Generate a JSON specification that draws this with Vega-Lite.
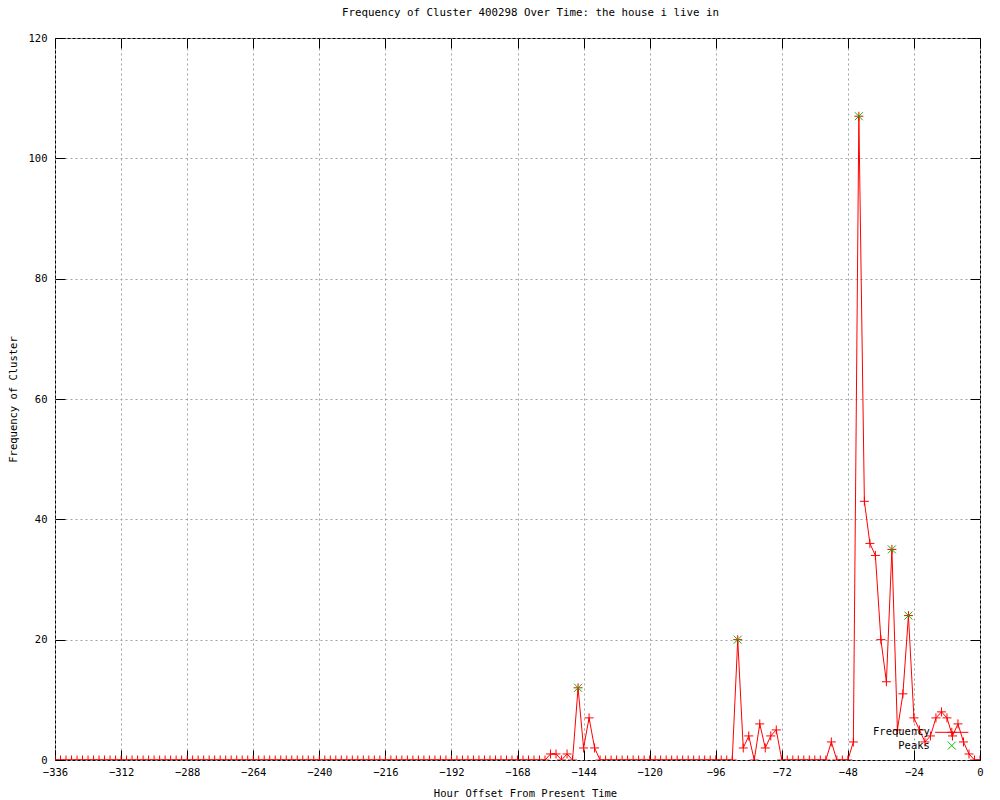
{
  "$schema": "https://vega.github.io/schema/vega-lite/v6.json",
  "width": 925,
  "height": 722,
  "autosize": {"type": "none"},
  "padding": {"left": 55, "top": 38, "right": 20, "bottom": 40},
  "background": "white",
  "title": {"text": "Frequency of Cluster 400298 Over Time: the house i live in", "font": "DejaVu Sans Mono", "fontSize": 10.8, "fontWeight": "normal", "color": "black", "offset": 15, "dx": 13},
  "config": {
    "view": {"stroke": "black", "strokeWidth": 1},
    "axis": {"labelFont": "DejaVu Sans Mono", "labelFontSize": 10.5, "labelColor": "black", "labelFlush": false, "labelOverlap": false, "titleFont": "DejaVu Sans Mono", "titleFontSize": 10.5, "titleFontWeight": "normal", "titleColor": "black", "domain": false, "tickColor": "black", "tickWidth": 1, "tickSize": -10, "gridColor": "#a0a0a0", "gridDash": [2, 3], "gridWidth": 1, "gridOpacity": 1}
  },
  "datasets": {
    "freq": [
      {"h":-336,"f":0},{"h":-334,"f":0},{"h":-332,"f":0},{"h":-330,"f":0},{"h":-328,"f":0},{"h":-326,"f":0},{"h":-324,"f":0},{"h":-322,"f":0},{"h":-320,"f":0},{"h":-318,"f":0},
      {"h":-316,"f":0},{"h":-314,"f":0},{"h":-312,"f":0},{"h":-310,"f":0},{"h":-308,"f":0},{"h":-306,"f":0},{"h":-304,"f":0},{"h":-302,"f":0},{"h":-300,"f":0},{"h":-298,"f":0},
      {"h":-296,"f":0},{"h":-294,"f":0},{"h":-292,"f":0},{"h":-290,"f":0},{"h":-288,"f":0},{"h":-286,"f":0},{"h":-284,"f":0},{"h":-282,"f":0},{"h":-280,"f":0},{"h":-278,"f":0},
      {"h":-276,"f":0},{"h":-274,"f":0},{"h":-272,"f":0},{"h":-270,"f":0},{"h":-268,"f":0},{"h":-266,"f":0},{"h":-264,"f":0},{"h":-262,"f":0},{"h":-260,"f":0},{"h":-258,"f":0},
      {"h":-256,"f":0},{"h":-254,"f":0},{"h":-252,"f":0},{"h":-250,"f":0},{"h":-248,"f":0},{"h":-246,"f":0},{"h":-244,"f":0},{"h":-242,"f":0},{"h":-240,"f":0},{"h":-238,"f":0},
      {"h":-236,"f":0},{"h":-234,"f":0},{"h":-232,"f":0},{"h":-230,"f":0},{"h":-228,"f":0},{"h":-226,"f":0},{"h":-224,"f":0},{"h":-222,"f":0},{"h":-220,"f":0},{"h":-218,"f":0},
      {"h":-216,"f":0},{"h":-214,"f":0},{"h":-212,"f":0},{"h":-210,"f":0},{"h":-208,"f":0},{"h":-206,"f":0},{"h":-204,"f":0},{"h":-202,"f":0},{"h":-200,"f":0},{"h":-198,"f":0},
      {"h":-196,"f":0},{"h":-194,"f":0},{"h":-192,"f":0},{"h":-190,"f":0},{"h":-188,"f":0},{"h":-186,"f":0},{"h":-184,"f":0},{"h":-182,"f":0},{"h":-180,"f":0},{"h":-178,"f":0},
      {"h":-176,"f":0},{"h":-174,"f":0},{"h":-172,"f":0},{"h":-170,"f":0},{"h":-168,"f":0},{"h":-166,"f":0},{"h":-164,"f":0},{"h":-162,"f":0},{"h":-160,"f":0},{"h":-158,"f":0},
      {"h":-156,"f":1},{"h":-154,"f":1},{"h":-152,"f":0},{"h":-150,"f":1},{"h":-148,"f":0},{"h":-146,"f":12},{"h":-144,"f":2},{"h":-142,"f":7},{"h":-140,"f":2},{"h":-138,"f":0},
      {"h":-136,"f":0},{"h":-134,"f":0},{"h":-132,"f":0},{"h":-130,"f":0},{"h":-128,"f":0},{"h":-126,"f":0},{"h":-124,"f":0},{"h":-122,"f":0},{"h":-120,"f":0},{"h":-118,"f":0},
      {"h":-116,"f":0},{"h":-114,"f":0},{"h":-112,"f":0},{"h":-110,"f":0},{"h":-108,"f":0},{"h":-106,"f":0},{"h":-104,"f":0},{"h":-102,"f":0},{"h":-100,"f":0},{"h":-98,"f":0},
      {"h":-96,"f":0},{"h":-94,"f":0},{"h":-92,"f":0},{"h":-90,"f":0},{"h":-88,"f":20},{"h":-86,"f":2},{"h":-84,"f":4},{"h":-82,"f":0},{"h":-80,"f":6},{"h":-78,"f":2},
      {"h":-76,"f":4},{"h":-74,"f":5},{"h":-72,"f":0},{"h":-70,"f":0},{"h":-68,"f":0},{"h":-66,"f":0},{"h":-64,"f":0},{"h":-62,"f":0},{"h":-60,"f":0},{"h":-58,"f":0},
      {"h":-56,"f":0},{"h":-54,"f":3},{"h":-52,"f":0},{"h":-50,"f":0},{"h":-48,"f":0},{"h":-46,"f":3},{"h":-44,"f":107},{"h":-42,"f":43},{"h":-40,"f":36},{"h":-38,"f":34},
      {"h":-36,"f":20},{"h":-34,"f":13},{"h":-32,"f":35},{"h":-30,"f":5},{"h":-28,"f":11},{"h":-26,"f":24},{"h":-24,"f":7},{"h":-22,"f":5},{"h":-20,"f":3},{"h":-18,"f":4},
      {"h":-16,"f":7},{"h":-14,"f":8},{"h":-12,"f":7},{"h":-10,"f":4},{"h":-8,"f":6},{"h":-6,"f":3},{"h":-4,"f":1},{"h":-2,"f":0},{"h":0,"f":0}
    ],
    "peaks": [
      {"h":-146,"f":12},{"h":-88,"f":20},{"h":-44,"f":107},{"h":-32,"f":35},{"h":-26,"f":24}
    ]
  },
  "resolve": {"axis": {"x": "independent", "y": "independent"}},
  "layer": [
    {
      "data": {"name": "freq"},
      "mark": {"type": "line", "color": "#ff0000", "strokeWidth": 1, "clip": true},
      "encoding": {
        "x": {"field": "h", "type": "quantitative", "scale": {"domain": [-336, 0], "nice": false, "zero": false},
          "axis": {"orient": "bottom", "values": [-336,-312,-288,-264,-240,-216,-192,-168,-144,-120,-96,-72,-48,-24,0], "grid": true, "title": "Hour Offset From Present Time", "labelPadding": 17, "titleX": 470, "titleY": 33, "titleBaseline": "middle", "titleAnchor": null}},
        "y": {"field": "f", "type": "quantitative", "scale": {"domain": [0, 120], "nice": false},
          "axis": {"orient": "left", "values": [0,20,40,60,80,100,120], "grid": true, "title": "Frequency of Cluster", "labelPadding": 18, "titleX": -42, "titleY": 361, "titleBaseline": "middle", "titleAlign": "center", "titleAnchor": null}}
      }
    },
    {
      "data": {"name": "freq"},
      "mark": {"type": "point", "shape": "M-1,0L1,0M0,-1L0,1", "filled": false, "stroke": "#ff0000", "strokeWidth": 1, "size": 81, "opacity": 1, "clip": true},
      "encoding": {
        "x": {"field": "h", "type": "quantitative", "axis": {"orient": "top", "values": [-336,-312,-288,-264,-240,-216,-192,-168,-144,-120,-96,-72,-48,-24,0], "grid": false, "labels": false, "title": null}},
        "y": {"field": "f", "type": "quantitative", "axis": {"orient": "right", "values": [0,20,40,60,80,100,120], "grid": false, "labels": false, "title": null}}
      }
    },
    {
      "data": {"name": "peaks"},
      "mark": {"type": "point", "shape": "M-1,-1L1,1M-1,1L1,-1", "filled": false, "stroke": "#00c000", "strokeWidth": 1, "size": 64, "opacity": 1},
      "encoding": {
        "x": {"field": "h", "type": "quantitative", "axis": null},
        "y": {"field": "f", "type": "quantitative", "axis": null}
      }
    },
    {
      "data": {"values": [{"label": "Frequency"}]},
      "mark": {"type": "text", "align": "right", "baseline": "middle", "font": "DejaVu Sans Mono", "fontSize": 10.5, "color": "black"},
      "encoding": {
        "text": {"field": "label"},
        "x": {"datum": -18.2, "type": "quantitative", "axis": null},
        "y": {"datum": 4.6, "type": "quantitative", "axis": null}
      }
    },
    {
      "data": {"values": [{"label": "Peaks"}]},
      "mark": {"type": "text", "align": "right", "baseline": "middle", "font": "DejaVu Sans Mono", "fontSize": 10.5, "color": "black"},
      "encoding": {
        "text": {"field": "label"},
        "x": {"datum": -18.2, "type": "quantitative", "axis": null},
        "y": {"datum": 2.4, "type": "quantitative", "axis": null}
      }
    },
    {
      "data": {"values": [{"label": "Frequency"}]},
      "mark": {"type": "rule", "color": "#ff0000", "strokeWidth": 1},
      "encoding": {
        "x": {"datum": -16.3, "type": "quantitative", "axis": null},
        "x2": {"datum": -4.2},
        "y": {"datum": 4.6, "type": "quantitative", "axis": null}
      }
    },
    {
      "data": {"values": [{"label": "Frequency"}]},
      "mark": {"type": "point", "shape": "M-1,0L1,0M0,-1L0,1", "filled": false, "stroke": "#ff0000", "strokeWidth": 1, "size": 81, "opacity": 1},
      "encoding": {
        "x": {"datum": -10.25, "type": "quantitative", "axis": null},
        "y": {"datum": 4.6, "type": "quantitative", "axis": null}
      }
    },
    {
      "data": {"values": [{"label": "Peaks"}]},
      "mark": {"type": "point", "shape": "M-1,-1L1,1M-1,1L1,-1", "filled": false, "stroke": "#00c000", "strokeWidth": 1, "size": 64, "opacity": 1},
      "encoding": {
        "x": {"datum": -10.25, "type": "quantitative", "axis": null},
        "y": {"datum": 2.4, "type": "quantitative", "axis": null}
      }
    }
  ]
}
